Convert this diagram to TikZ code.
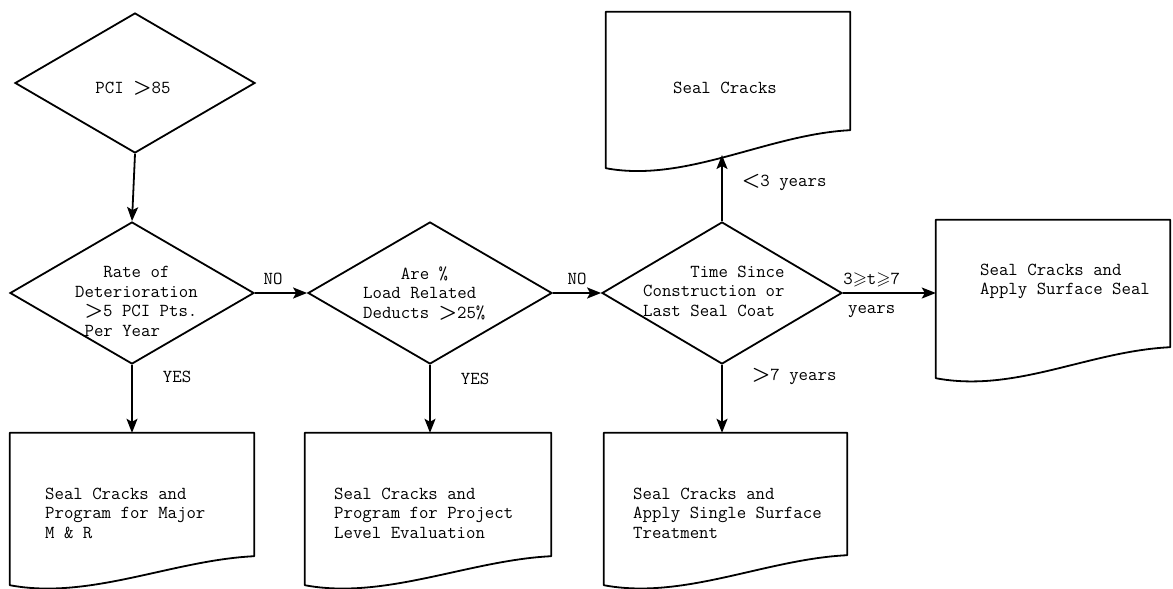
\documentclass[tikz,border=0pt]{standalone}
\usepackage{amssymb}
\usepackage{tikz}
\usetikzlibrary{shapes.geometric,arrows.meta}

\newcommand{\gtsign}{\mbox{\fontsize{22}{22}\selectfont\boldmath$>$}}
\newcommand{\ltsign}{\mbox{\fontsize{22}{22}\selectfont\boldmath$<$}}

\tikzset{
  flowfont/.style={font=\fontsize{18.3}{19.5}\selectfont\ttfamily},
  diag/.style={diamond, draw, line width=1.8pt, inner sep=0pt,
    minimum width=244pt, minimum height=142pt},
  docbox/.style={inner sep=0pt},
  txt/.style={flowfont, align=left, inner sep=0pt, anchor=north west},
  lbl/.style={flowfont, inner sep=0pt},
  arr/.style={line width=1.8pt, -{Stealth[length=14pt,width=11pt,inset=3pt]}}
}

\begin{document}
\begin{tikzpicture}[x=1pt, y=-1pt]
\useasboundingbox (0,0) rectangle (1173,589);

        % decisions
        \node (pci_diag) [diag, minimum width=240pt, minimum height=140pt] at (135,83) {};
        \node (rate_diag) [diag] at (132,293) {};
        \node (load_diag) [diag] at (430,293) {};
        \node (time_diag) [diag, minimum width=240pt] at (722,293) {};

        \node (pci_text) [lbl] at (133,88) {PCI \gtsign85};
        \node (rate_text) [txt] at (75,266.4)
        {\hphantom{000}Rate of\\Deterioration\\\hphantom{0}\gtsign5 PCI Pts.\\\hphantom{0}Per Year};
        \node (load_text) [txt] at (363,266.4)
        {\hphantom{0000}Are \%\\Load Related\\Deducts \gtsign25\%};
        \node (time_text) [txt] at (643,265.4)
        {\hphantom{00000}Time Since\\Construction or\\Last Seal Coat};

        % actions
        \node (major_box) [docbox, minimum width=244pt, minimum height=152pt] at (132,509) {};
        \node (project_box) [docbox, minimum width=246pt, minimum height=152pt] at (428,509) {};
        \node (single_box) [docbox, minimum width=243pt, minimum height=152pt] at (725.5,509) {};
        \node (seal_box) [docbox, minimum width=244pt, minimum height=156pt] at (728,90) {};
        \node (surface_box) [docbox, minimum width=234pt, minimum height=158pt] at (1053,299) {};

        \foreach \boxname/\rise in {major_box/29, project_box/29, single_box/30, seal_box/38, surface_box/31}
            \draw[line width=1.8pt, line join=round] (\boxname.north west) -- (\boxname.north east)
            -- ([yshift=\rise pt]\boxname.south east) .. controls +(-82pt,-4pt) and +(80pt,-15pt)
            .. (\boxname.south west) -- cycle;

        \node (major_text) [txt] at (45,487.4) {Seal Cracks and\\Program for Major\\M \& R};
        \node (project_text) [txt] at (334,487.4) {Seal Cracks and\\Program for Project\\Level Evaluation};
        \node (single_text) [txt] at (633,487.4) {Seal Cracks and\\Apply Single Surface\\Treatment};
        \node (seal_text) [txt] at (673,81.4) {Seal Cracks};
        \node (surface_text) [txt] at (980,263.4) {Seal Cracks and\\Apply Surface Seal};

        \coordinate (seal_in) at (722,155);

        % connectors
        \draw[arr] (pci_diag.south) -- (rate_diag.north);
        \draw[arr] (rate_diag.east) -- node[lbl, above=7pt, pos=0.35] (no_rate) {NO} (load_diag.west);
        \draw[arr] (rate_diag.south) -- node[lbl, right=30pt, pos=0.18] (yes_rate) {YES}
            (rate_diag.south |- major_box.north);
        \draw[arr] (load_diag.east) -- node[lbl, above=7pt] (no_load) {NO} (time_diag.west);
        \draw[arr] (load_diag.south) -- node[lbl, right=30pt, pos=0.2] (yes_load) {YES}
            (load_diag.south |- project_box.north);
        \draw[arr] (time_diag.north) -- node[lbl, right=19pt, pos=0.58] (less_three) {\ltsign3 years} (seal_in);
        \draw[arr] (time_diag.east) -- node[lbl, above=5pt, pos=0.31] (mid_years) {3$\geqslant$t$\geqslant$7}
            node[lbl, below=12pt, pos=0.31] (mid_unit) {years} (time_diag.east -| surface_box.west);
        \draw[arr] (time_diag.south) -- node[lbl, right=29pt, pos=0.17] (more_seven) {\gtsign7 years}
            (time_diag.south |- single_box.north);
\end{tikzpicture}
\end{document}
